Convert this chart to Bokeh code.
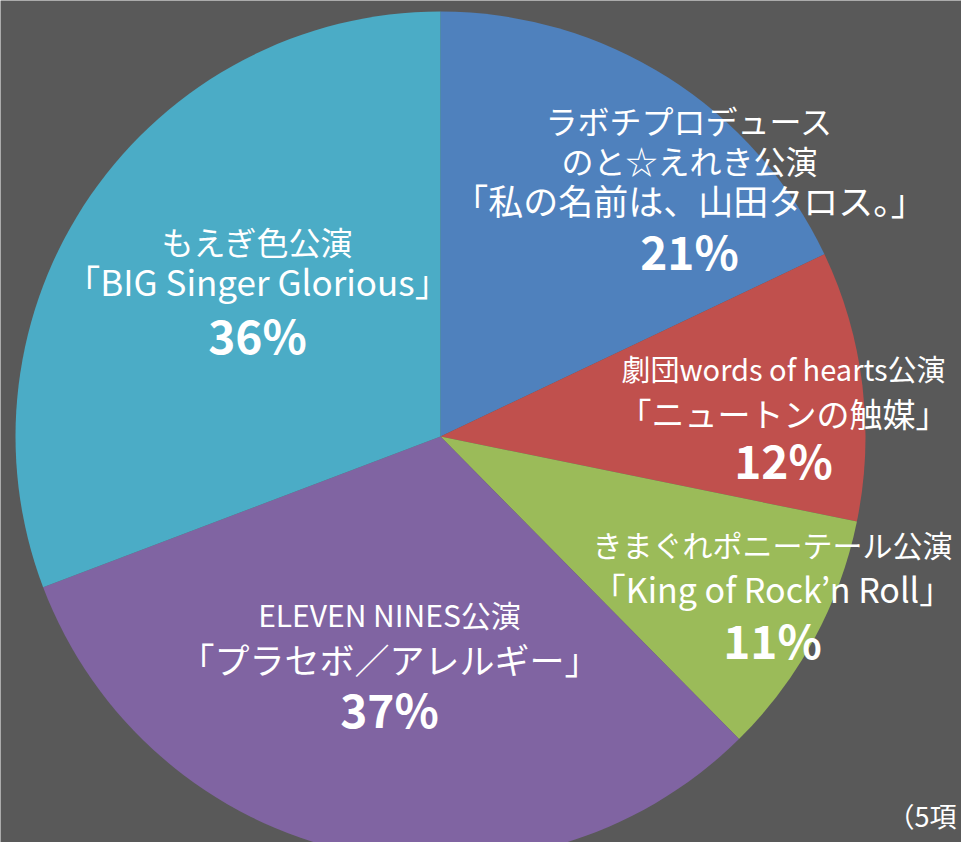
from bokeh.plotting import figure
from bokeh.models import ColumnDataSource, Range1d
from bokeh.core.properties import value
from bokeh.embed import file_html
from bokeh.resources import INLINE
import math

# ---- data (clockwise from 12 o'clock) ----
troupes = ["ラボチプロデュース\nのと☆えれき公演", "劇団words of hearts公演", "きまぐれポニーテール公演",
           "ELEVEN NINES公演", "もえぎ色公演"]
titles = ["「私の名前は、山田タロス。」", "「ニュートンの触媒」", "「King of Rock’n Roll」",
          "「プラセボ／アレルギー」", "「BIG Singer Glorious」"]
shares = [21, 12, 11, 37, 36]
colors = ["#4F81BD", "#C0504D", "#9BBB59", "#8064A2", "#4BACC6"]
note = "（5項"

# ---- layout (pixel coords, y measured upward from figure bottom) ----
W, H = 961, 842
CX, CY, R = 440, 406, 425
FONT = "Noto Sans CJK JP"
lab_x = [689, 783, 772, 389, 257]
pct_y = [593, 384, 204, 135, 509]       # anchor of the percent line
title_gap = [50, 46, 50, 49, 53]         # percent line -> title line
troupe_gap = [40, 45, 45, 45, 40]        # title line -> troupe line(s)
troupe_size = ["32px", "29px", "30px", "30px", "32px"]
title_size = ["35px", "33px", "34px", "35px", "35px"]

total = sum(shares)
starts, ends = [], []
cum = 0
for v in shares:
    starts.append(math.pi / 2 - 2 * math.pi * cum / total)
    cum += v
    ends.append(math.pi / 2 - 2 * math.pi * cum / total)

p = figure(width=W, height=H, output_backend="svg", toolbar_location=None,
           x_range=Range1d(0, W), y_range=Range1d(0, H), min_border=0)
p.axis.visible = False
p.grid.visible = False
p.outline_line_color = None
p.background_fill_color = "#595959"
p.border_fill_color = "#595959"

src = ColumnDataSource(dict(start=starts, end=ends, color=colors))
p.wedge(x=CX, y=CY, radius=R, start_angle="start", end_angle="end", direction="clock",
        fill_color="color", line_color=None, source=src)

for i in range(len(shares)):
    x0, y0 = lab_x[i], pct_y[i]
    p.text(x=[x0], y=[y0], text=[f"{shares[i]}%"], text_align="center", text_baseline="middle",
           text_font=value(FONT), text_font_style="bold", text_font_size="46px",
           text_color="white")
    ty = y0 + title_gap[i]
    p.text(x=[x0], y=[ty], text=[titles[i]], text_align="center", text_baseline="middle",
           text_font=value(FONT), text_font_size=title_size[i], text_color="white")
    for k, ln in enumerate(reversed(troupes[i].split("\n"))):
        p.text(x=[x0], y=[ty + troupe_gap[i] * (k + 1)], text=[ln], text_align="center",
               text_baseline="middle", text_font=value(FONT), text_font_size=troupe_size[i],
               text_color="white")

p.text(x=[887], y=[27], text=[note], text_align="left", text_baseline="middle",
       text_font=value(FONT), text_font_size="27px", text_color="white")

open("out.html", "w").write(file_html(p, INLINE))
